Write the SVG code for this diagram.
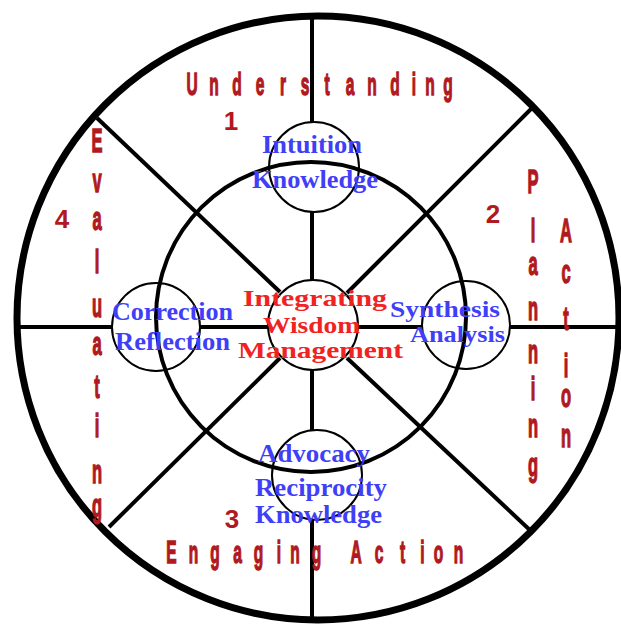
<svg xmlns="http://www.w3.org/2000/svg" width="621" height="626" viewBox="0 0 621 626">
<style>
.ring{fill:none;stroke:#000}
.outer{stroke-width:7}
.mid{stroke-width:4}
.node{fill:none;stroke:#000;stroke-width:2}
.spoke{stroke:#000;stroke-width:4;fill:none}
.blue{font-family:"Liberation Serif","Times New Roman",serif;font-weight:bold;font-size:26px;fill:#3f3ff8}
.red{font-family:"Liberation Serif","Times New Roman",serif;font-weight:bold;font-size:24px;fill:#f02222}
.lbl{font-family:"Liberation Sans",Arial,sans-serif;font-weight:bold;fill:#b0191e;stroke:#b0191e;stroke-width:1.4;text-anchor:middle}
.num{font-family:"Liberation Sans",Arial,sans-serif;font-weight:bold;font-size:26px;fill:#b0191e;text-anchor:middle}
</style>
<rect width="621" height="626" fill="#fff"/>
<g id="outer-ring"><ellipse class="ring outer" cx="318" cy="318" rx="301" ry="302"/></g>
<g id="middle-ring"><circle class="ring mid" cx="311" cy="317" r="155"/></g>
<g id="connectors">
<line class="spoke" x1="312" y1="16" x2="312" y2="122"/>
<line class="spoke" x1="312" y1="212" x2="312" y2="280"/>
<line class="spoke" x1="312" y1="370" x2="312" y2="430"/>
<line class="spoke" x1="312" y1="520" x2="312" y2="622"/>
<line class="spoke" x1="17" y1="327" x2="113" y2="327"/>
<line class="spoke" x1="200" y1="327" x2="268" y2="327"/>
<line class="spoke" x1="358" y1="327" x2="422" y2="327"/>
<line class="spoke" x1="510" y1="327" x2="621" y2="327"/>
<line class="spoke" x1="97" y1="118" x2="280" y2="292"/>
<line class="spoke" x1="533" y1="107" x2="347" y2="293"/>
<line class="spoke" x1="109" y1="527" x2="280" y2="358"/>
<line class="spoke" x1="533" y1="533" x2="347" y2="358"/>
</g>
<g id="node-center"><circle class="node" cx="313" cy="325" r="45"/>
<text class="red" x="243" y="306" textLength="144" lengthAdjust="spacingAndGlyphs">Integrating</text>
<text class="red" x="263" y="333" textLength="97" lengthAdjust="spacingAndGlyphs">Wisdom</text>
<text class="red" x="238" y="358" textLength="165" lengthAdjust="spacingAndGlyphs">Management</text>
</g>
<g id="node-top"><circle class="node" cx="314" cy="167" r="45"/>
<text class="blue" x="262" y="153" textLength="100" lengthAdjust="spacingAndGlyphs">Intuition</text>
<text class="blue" x="252" y="188" textLength="126" lengthAdjust="spacingAndGlyphs">Knowledge</text>
</g>
<g id="node-right"><circle class="node" cx="466" cy="325" r="44"/>
<text class="blue" font-size="24" style="font-size:24px" x="390" y="317" textLength="110" lengthAdjust="spacingAndGlyphs">Synthesis</text>
<text class="blue" style="font-size:24px" x="410" y="342" textLength="95" lengthAdjust="spacingAndGlyphs">Analysis</text>
</g>
<g id="node-bottom"><circle class="node" cx="317" cy="475" r="45"/>
<text class="blue" x="258" y="462" textLength="112" lengthAdjust="spacingAndGlyphs">Advocacy</text>
<text class="blue" x="255" y="496" textLength="132" lengthAdjust="spacingAndGlyphs">Reciprocity</text>
<text class="blue" x="255" y="523" textLength="127" lengthAdjust="spacingAndGlyphs">Knowledge</text>
</g>
<g id="node-left"><circle class="node" cx="156" cy="327" r="44"/>
<text class="blue" x="112" y="320" textLength="121" lengthAdjust="spacingAndGlyphs">Correction</text>
<text class="blue" x="115" y="350" textLength="115" lengthAdjust="spacingAndGlyphs">Reflection</text>
</g>
<g id="labels">
<text class="lbl" font-size="31" transform="scale(0.5,1)" x="384 428 474 520 566 610 654 700 744 790 828 860 896" y="95">Understanding</text>
<text class="lbl" font-size="31" transform="scale(0.5,1)" x="343 387 430 475 517 558 590 633 680 712 758 805 845 877 917" y="563">Engaging Action</text>
<text class="lbl" font-size="33" transform="scale(0.5,1)" x="194 194 194 194 194 194 194 194 194 194" y="152 192 230 273 317 355 398 437 483 517">Evaluating</text>
<text class="lbl" font-size="33" transform="scale(0.5,1)" x="1066 1066 1066 1066 1066 1066 1066 1066" y="193 242 275 320 363 400 437 476">Planning</text>
<text class="lbl" font-size="33" transform="scale(0.5,1)" x="1132 1132 1132 1132 1132 1132" y="242 283 330 377 407 447">Action</text>
<text class="num" x="231" y="130">1</text>
<text class="num" x="493" y="223">2</text>
<text class="num" x="232" y="528">3</text>
<text class="num" x="62" y="228">4</text>
</g>
</svg>
